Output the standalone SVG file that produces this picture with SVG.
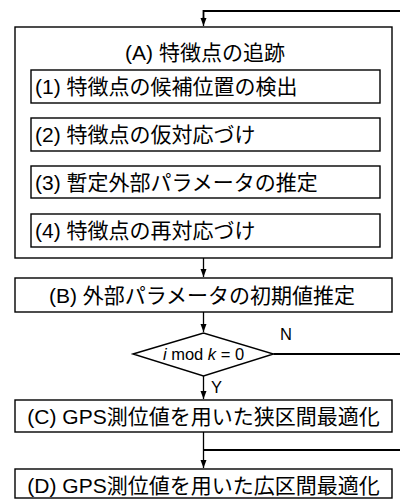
<svg xmlns="http://www.w3.org/2000/svg" width="400" height="499" viewBox="0 0 400 499">
<style>
.box{fill:#fff;stroke:#000;stroke-width:1.4}
.t{font-family:"Liberation Sans","Noto Sans CJK JP",sans-serif;font-size:21px;fill:#000;text-anchor:middle;dominant-baseline:central}
.l{text-anchor:start}
.s{font-family:"Liberation Sans","Noto Sans CJK JP",sans-serif;font-size:16.5px;fill:#000}
.ln{fill:none;stroke:#000;stroke-width:1.8}
.ar{fill:none;stroke:#000;stroke-width:1.3;marker-end:url(#ah)}
</style>
<defs>
<marker id="ah" viewBox="0 0 8 10" refX="8" refY="5" markerWidth="8" markerHeight="10" markerUnits="userSpaceOnUse" orient="auto">
<path d="M0,2 L8,5 L0,8 Z" fill="#000"/>
</marker>
</defs>
<g id="connectors">
<path class="ln" d="M400,11 H203.5 V18"/>
<path class="ar" d="M203.5,17 V26"/>
<path class="ar" d="M205.5,103 V117"/>
<path class="ar" d="M205.5,151 V165"/>
<path class="ar" d="M205.5,198 V213"/>
<path class="ar" d="M203.5,258 V277"/>
<path class="ar" d="M203.5,312 V332"/>
<path class="ln" d="M273.5,354 H400"/>
<path class="ar" d="M203.5,376 V399"/>
<path class="ln" d="M400,450 H203.5"/>
<path class="ar" d="M203.5,432 V468"/>
</g>
<g id="nodeA">
<rect class="box" x="15" y="27" width="377" height="231"/>
<text class="t" x="205" y="52.5">(A) 特徴点の追跡</text>
</g>
<g id="node1">
<rect class="box" x="31" y="70" width="349" height="33"/>
<text class="t l" x="35" y="86.5">(1) 特徴点の候補位置の検出</text>
</g>
<g id="node2">
<rect class="box" x="31" y="118" width="349" height="33"/>
<text class="t l" x="35" y="134.5">(2) 特徴点の仮対応づけ</text>
</g>
<g id="node3">
<rect class="box" x="31" y="166" width="349" height="32"/>
<text class="t l" x="35" y="182">(3) 暫定外部パラメータの推定</text>
</g>
<g id="node4">
<rect class="box" x="31" y="214" width="349" height="33"/>
<text class="t l" x="35" y="230.5">(4) 特徴点の再対応づけ</text>
</g>
<g id="nodeB">
<rect class="box" x="15" y="278" width="377" height="34"/>
<text class="t" x="202" y="295">(B) 外部パラメータの初期値推定</text>
</g>
<g id="decision">
<path class="box" d="M133,354 L203.5,333 L273.5,354 L203.5,376 Z"/>
<text class="s" x="203.5" y="360" text-anchor="middle"><tspan font-style="italic">i</tspan> mod <tspan font-style="italic">k</tspan> = 0</text>
<text class="s" x="280" y="340">N</text>
<text class="s" x="211" y="393">Y</text>
</g>
<g id="nodeC">
<rect class="box" x="15" y="400" width="377" height="32"/>
<text class="t" x="203.5" y="416">(C) GPS測位値を用いた狭区間最適化</text>
</g>
<g id="nodeD">
<rect class="box" x="15" y="469" width="377" height="29"/>
<text class="t" x="203.5" y="485">(D) GPS測位値を用いた広区間最適化</text>
</g>
</svg>
